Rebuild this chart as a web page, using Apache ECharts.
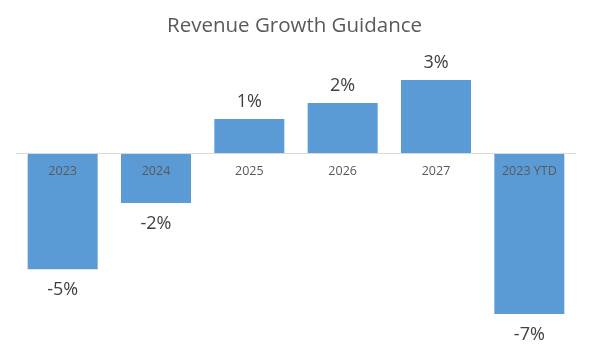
<!DOCTYPE html>
<html><head><meta charset="utf-8">
<script src="https://cdn.jsdelivr.net/npm/echarts@6/dist/echarts.min.js"></script>
<style>html,body{margin:0;padding:0;background:#fff}#c{width:598px;height:358px}</style>
</head><body><div id="c"></div>
<script>
const categories = ['2023', '2024', '2025', '2026', '2027', '2023 YTD'];
const growth = [-5.05, -2.17, 1.48, 2.17, 3.17, -7.0];
const titleText = 'Revenue Growth Guidance';

const chart = echarts.init(document.getElementById('c'));
const data = growth.map(v => v < 0 ? { value: v, label: { position: 'bottom', distance: 12 } } : v);
chart.setOption({
  animation: false,
  backgroundColor: '#fff',
  title: {
    text: titleText, left: 162, top: 11,
    textStyle: { fontFamily: 'Open Sans', fontSize: 20.5, fontWeight: 'normal', color: '#595959' }
  },
  grid: { left: 16, right: 22, top: 61, height: 276, outerBoundsMode: 'none', containLabel: false },
  xAxis: {
    type: 'category', data: categories, z: 10,
    position: 'bottom', offset: -184,
    axisLine: { onZero: false, lineStyle: { color: '#d9d9d9', width: 1 } },
    axisTick: { show: false },
    axisLabel: { margin: 12, fontFamily: 'Open Sans', fontSize: 12.5, color: '#595959' }
  },
  yAxis: {
    type: 'value', min: -8, max: 4, interval: 1, show: false,
    splitLine: { show: false }
  },
  series: [{
    type: 'bar', data: data, barCategoryGap: '25%',
    itemStyle: { color: '#5B9BD5' },
    label: {
      show: true, position: 'top', distance: 8,
      fontFamily: 'Open Sans', fontSize: 18, color: '#404040',
      formatter: p => Math.round(p.value) + '%'
    }
  }]
});
</script></body></html>
